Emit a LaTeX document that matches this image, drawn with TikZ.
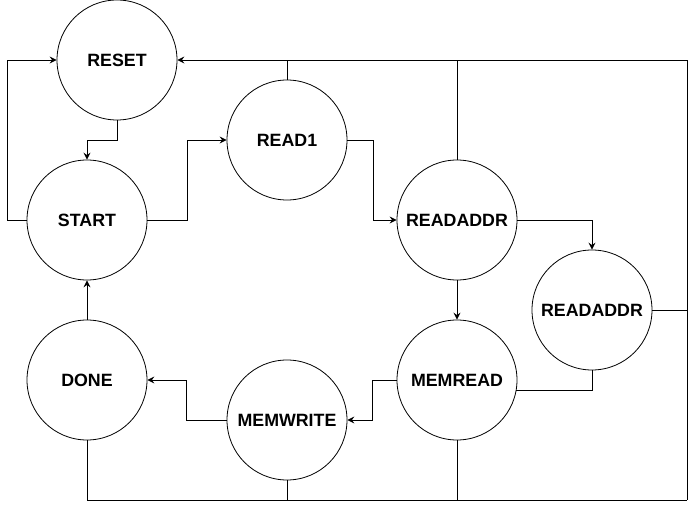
\documentclass[tikz,border=0pt]{standalone}
\usepackage{fontspec}
\setmainfont{Liberation Sans}
\usetikzlibrary{arrows.meta}
\begin{document}
\begin{tikzpicture}[x=1pt,y=-1pt,
  state/.style={circle,draw,line width=0.8pt,minimum size=120pt,inner sep=0pt,font=\fontsize{17.8}{20}\selectfont\bfseries},
  wire/.style={line width=0.9pt},
  arr/.style={wire,-{Stealth[length=7pt,width=7pt,inset=2.5pt]}}]
\useasboundingbox (0,0) rectangle (697,510);
\node[state] (reset) at (117,60) {RESET};
\node[state] (start) at (87,220) {START};
\node[state] (read1) at (287,140) {READ1};
\node[state] (readaddr) at (457,220) {READADDR};
\node[state] (readaddrb) at (592,310) {READADDR};
\node[state] (memread) at (457,380) {MEMREAD};
\node[state] (memwrite) at (287,420) {MEMWRITE};
\node[state] (done) at (87,380) {DONE};
\coordinate (tr) at (687,60);
\coordinate (br) at (687,500);
\coordinate (bl) at (87,500);
% forward transitions
\draw[arr] (reset.south) -- ++(0,20) -| (start.north);
\draw[arr] (start.west) -- ++(-19,0) |- (reset.west);
\draw[arr] (start.east) -- ++(40,0) |- (read1.west);
\draw[arr] (read1.east) -- ++(26,0) |- (readaddr.west);
\draw[arr] (readaddr.east) -| (readaddrb.north);
\draw[arr] (readaddr.south) -- (memread.north);
\draw[wire] (readaddrb.south) |- (516,390);
\draw[arr] (memread.west) -- ++(-24,0) |- (memwrite.east);
\draw[arr] (memwrite.west) -- ++(-40,0) |- (done.east);
\draw[arr] (done.north) -- (start.south);
% return bus to RESET
\draw[arr] (br) -- (tr) -- (reset.east);
\draw[wire] (done.south) -- (bl) -- (br);
\draw[wire] (memwrite.south) -- (memwrite.south |- bl);
\draw[wire] (memread.south) -- (memread.south |- bl);
\draw[wire] (read1.north) -- (read1.north |- tr);
\draw[wire] (readaddr.north) -- (readaddr.north |- tr);
\draw[wire] (readaddrb.east) -- (readaddrb.east -| tr);
\end{tikzpicture}
\end{document}
